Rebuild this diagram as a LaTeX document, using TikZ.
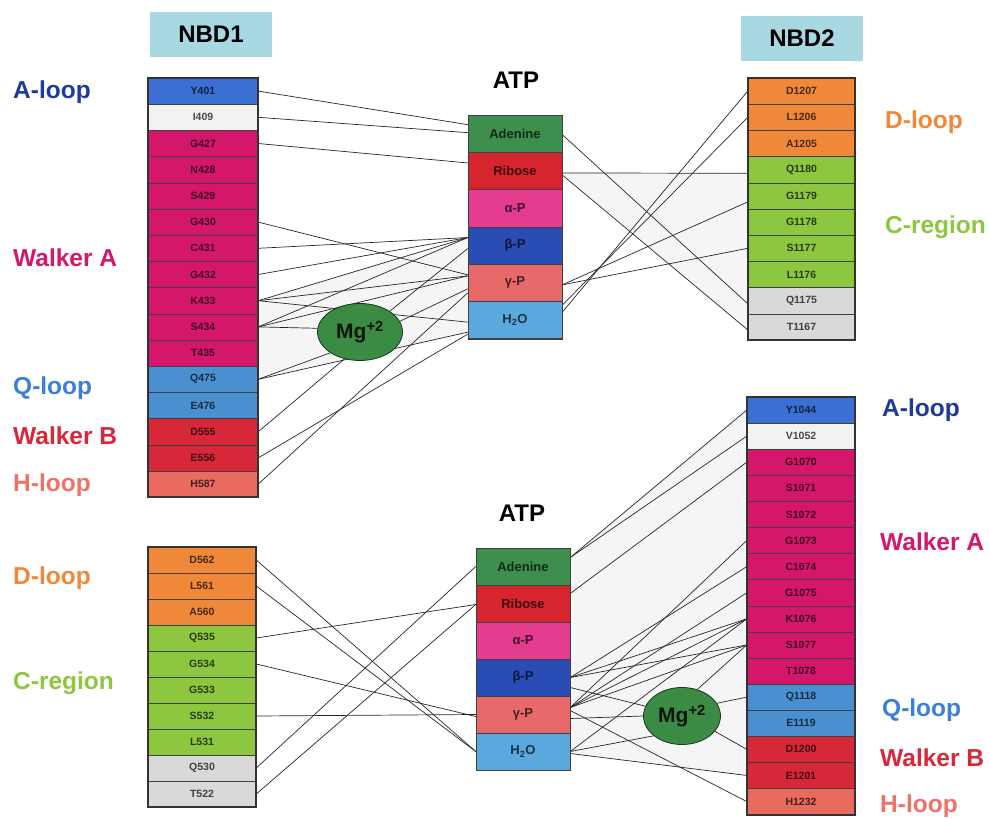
\documentclass[tikz,border=0pt]{standalone}
\usepackage{fontspec}
\setmainfont{Liberation Sans}
\usetikzlibrary{calc,backgrounds,shapes.geometric}
\definecolor{aloop}{HTML}{3B6FD4}
\definecolor{walkA}{HTML}{D4176A}
\definecolor{qloop}{HTML}{4A90D0}
\definecolor{walkB}{HTML}{D62839}
\definecolor{hloop}{HTML}{E96A5E}
\definecolor{dloop}{HTML}{F0883A}
\definecolor{creg}{HTML}{8DC63F}
\definecolor{grayres}{HTML}{D9D9D9}
\definecolor{whiteres}{HTML}{F2F2F2}
\definecolor{aden}{HTML}{3E8E4E}
\definecolor{ribo}{HTML}{D6252E}
\definecolor{alphap}{HTML}{E43C8E}
\definecolor{betap}{HTML}{2A4DB5}
\definecolor{gammap}{HTML}{E8696A}
\definecolor{water}{HTML}{5BA8DF}
\definecolor{mg}{HTML}{3C8B45}
\definecolor{nbd}{HTML}{A8D8E2}
\definecolor{laloop}{HTML}{1E3A9A}
\definecolor{lqloop}{HTML}{3B7FD9}
\definecolor{lhloop}{HTML}{F0706A}
\begin{document}
\begin{tikzpicture}[x=1pt,y=-1pt,
 res/.style={draw=black!75, line width=0.5pt, inner sep=0pt, font=\bfseries\fontsize{10.5}{12}\selectfont},
 atpbox/.style={draw=black!75, line width=0.5pt, inner sep=0pt, minimum width=94pt, minimum height=37.3pt, font=\bfseries\fontsize{13}{14}\selectfont},
 link/.style={draw=black!85, line width=0.7pt},
 side/.style={anchor=west, inner sep=0pt, font=\bfseries\fontsize{24.5}{26}\selectfont},
 colframe/.style={draw=black!80, line width=2.2pt},
 mgion/.style={ellipse, draw=black!60!mg, fill=mg, line width=0.8pt, minimum width=85pt, minimum height=57pt, inner sep=0pt, font=\bfseries\fontsize{21}{22}\selectfont, text=black!85!mg},
 shadearea/.style={fill=black!4, draw=none},
 nbdbox/.style={fill=nbd, inner sep=0pt, minimum width=122pt, minimum height=45pt, font=\bfseries\fontsize{24}{26}\selectfont},
 atptitle/.style={font=\bfseries\fontsize{24}{26}\selectfont}]
\useasboundingbox (0,0) rectangle (989,819);

% ---------- headers
\node[nbdbox] (nbd1) at (211,34) {NBD1};
\node[nbdbox] (nbd2) at (802,38) {NBD2};
\node[atptitle] (atp1) at (516,80) {ATP};
\node[atptitle] (atp2) at (522,513) {ATP};

% ---------- top-left column
\foreach \nm/\lab/\col [count=\i from 0] in {Y401/Y401/aloop, I409/I409/whiteres, G427/G427/walkA, N428/N428/walkA, S429/S429/walkA, G430/G430/walkA, C431/C431/walkA, G432/G432/walkA, K433/K433/walkA, S434/S434/walkA, T435/T435/walkA, Q475/Q475/qloop, E476/E476/qloop, D555/D555/walkB, E556/E556/walkB, H587/H587/hloop}
  \node[res, fill=\col, text=\col!30!black, minimum width=110pt, minimum height=26.2pt] (\nm) at (203, 91.1+26.2*\i) {\lab};
\draw[colframe] (148,78) rectangle (258,497.2);

% ---------- top-right column
\foreach \nm/\lab/\col [count=\i from 0] in {D1207/D1207/dloop, L1206/L1206/dloop, A1205/A1205/dloop, Q1180/Q1180/creg, G1179/G1179/creg, G1178/G1178/creg, S1177/S1177/creg, L1176/L1176/creg, Q1175/Q1175/grayres, T1167/T1167/grayres}
  \node[res, fill=\col, text=\col!30!black, minimum width=107pt, minimum height=26.2pt] (\nm) at (801.5, 91.1+26.2*\i) {\lab};
\draw[colframe] (748,78) rectangle (855,340);

% ---------- bottom-left column
\foreach \nm/\lab/\col [count=\i from 0] in {D562/D562/dloop, L561/L561/dloop, A560/A560/dloop, Q535/Q535/creg, G534/G534/creg, G533/G533/creg, S532/S532/creg, L531/L531/creg, Q530/Q530/grayres, T522/T522/grayres}
  \node[res, fill=\col, text=\col!30!black, minimum width=108pt, minimum height=26pt] (\nm) at (202, 560+26*\i) {\lab};
\draw[colframe] (148,547) rectangle (256,807);

% ---------- bottom-right column
\foreach \nm/\lab/\col [count=\i from 0] in {Y1044/Y1044/aloop, V1052/V1052/whiteres, G1070/G1070/walkA, S1071/S1071/walkA, S1072/S1072/walkA, G1073/G1073/walkA, C1074/C1074/walkA, G1075/G1075/walkA, K1076/K1076/walkA, S1077/S1077/walkA, T1078/T1078/walkA, Q1118/Q1118/qloop, E1119/E1119/qloop, D1200/D1200/walkB, E1201/E1201/walkB, H1232/H1232/hloop}
  \node[res, fill=\col, text=\col!30!black, minimum width=108pt, minimum height=26.1pt] (\nm) at (801, 410.05+26.1*\i) {\lab};
\draw[colframe] (747,397) rectangle (855,814.6);

% ---------- ATP columns
\foreach \nm/\lab/\col [count=\i from 0] in {aden/Adenine/aden, ribo/Ribose/ribo, alp/α-P/alphap, bet/β-P/betap, gam/γ-P/gammap, wat/H\textsubscript{2}O/water}
  \node[atpbox, fill=\col, text=\col!30!black] (\nm) at (515, 133.65+37.3*\i) {\lab};
\draw[black!75, line width=1pt] (468,115) -- (562,115) (468,338.8) -- (562,338.8);
\foreach \nm/\lab/\col [count=\i from 0] in {adenB/Adenine/aden, riboB/Ribose/ribo, alpB/α-P/alphap, betB/β-P/betap, gamB/γ-P/gammap, watB/H\textsubscript{2}O/water}
  \node[atpbox, fill=\col, text=\col!30!black, minimum height=37pt] (\nm) at (523, 566.5+37*\i) {\lab};
\draw[black!75, line width=1pt] (476,548) -- (570,548) (476,770) -- (570,770);

% ---------- Mg ions
\node[mgion] (mgA) at (360,332) {Mg\textsuperscript{+2}};
\node[mgion, minimum width=77pt] (mgB) at (682,716) {Mg\textsuperscript{+2}};

% ---------- side labels
\node[side, text=laloop] (lA1) at (13,92) {A-loop};
\node[side, text=walkA] (lW1) at (13,258) {Walker A};
\node[side, text=lqloop] (lQ1) at (13,388) {Q-loop};
\node[side, text=walkB] (lB1) at (13,436) {Walker B};
\node[side, text=lhloop] (lH1) at (13,485) {H-loop};
\node[side, text=dloop] (lD1) at (13,578) {D-loop};
\node[side, text=creg] (lC1) at (13,683) {C-region};
\node[side, text=dloop] (lD2) at (885,122) {D-loop};
\node[side, text=creg] (lC2) at (885,227) {C-region};
\node[side, text=laloop] (lA2) at (882,410) {A-loop};
\node[side, text=walkA] (lW2) at (880,542) {Walker A};
\node[side, text=lqloop] (lQ2) at (882,710) {Q-loop};
\node[side, text=walkB] (lB2) at (880,758) {Walker B};
\node[side, text=lhloop] (lH2) at (880,806) {H-loop};

% ---------- connectors
\begin{pgfonlayer}{background}
\fill[shadearea] ($(ribo.east)+(0,2)$) -- ($(Q1180.west)+(0,3.6)$) -- ($(T1167.west)+(0,3)$) -- cycle;
\fill[shadearea] (K433.east) -- ($(bet.west)+(0,-8)$) -- ($(wat.west)+(0,12)$) -- (Q475.east) -- cycle;
\fill[shadearea] ($(adenB.east)+(0,-9)$) -- (Y1044.west) -- (E1201.west) -- ($(watB.east)+(0,2)$) -- cycle;

% top-left
\draw[link] (Y401.east) -- ($(aden.west)+(0,-9)$);
\draw[link] (I409.east) -- ($(aden.west)+(0,-1)$);
\draw[link] (G427.east) -- ($(ribo.west)+(0,-8)$);
\draw[link] (G430.east) -- ($(gam.west)+(0,-8)$);
\draw[link] (C431.east) -- ($(bet.west)+(0,-8)$);
\draw[link] (G432.east) -- ($(bet.west)+(0,-8)$);
\draw[link] (K433.east) -- ($(bet.west)+(0,-8)$);
\draw[link] (K433.east) -- ($(gam.west)+(0,-7)$);
\draw[link] (K433.east) -- ($(wat.west)+(0,2)$);
\draw[link] (S434.east) -- ($(bet.west)+(0,-8)$);
\draw[link] (S434.east) -- ($(gam.west)+(0,-7)$);
\draw[link] (S434.east) -- (mgA.175);
\draw[link] (Q475.east) -- (mgA.215);
\draw[link] (Q475.east) -- ($(wat.west)+(0,12)$);
\draw[link] (D555.east) -- (mgA.240);
\draw[link] (E556.east) -- ($(wat.west)+(0,14)$);
\draw[link] (H587.east) -- ($(gam.west)+(0,10)$);
\draw[link] (mgA.35) -- ($(bet.west)+(0,3)$);
\draw[link] (mgA.15) -- ($(gam.west)+(0,6)$);

% top-right
\draw[link] ($(aden.east)+(0,1)$) -- ($(Q1175.west)+(0,3)$);
\draw[link] ($(ribo.east)+(0,2)$) -- ($(Q1180.west)+(0,3.6)$);
\draw[link] ($(ribo.east)+(0,4)$) -- ($(T1167.west)+(0,3)$);
\draw[link] ($(gam.east)+(0,2)$) -- ($(G1179.west)+(0,6)$);
\draw[link] ($(gam.east)+(0,2)$) -- (S1177.west);
\draw[link] ($(wat.east)+(0,-8)$) -- (D1207.west);
\draw[link] ($(wat.east)+(0,-15)$) -- (L1206.west);

% bottom-left
\draw[link] (D562.east) -- (watB.west);
\draw[link] (L561.east) -- (watB.west);
\draw[link] (Q535.east) -- ($(riboB.west)+(0,1)$);
\draw[link] (G534.east) -- ($(gamB.west)+(0,2)$);
\draw[link] (S532.east) -- (gamB.west);
\draw[link] (Q530.east) -- (adenB.west);
\draw[link] (T522.east) -- ($(riboB.west)+(0,1)$);

% bottom-right
\draw[link] ($(adenB.east)+(0,-9)$) -- (Y1044.west);
\draw[link] ($(adenB.east)+(0,-9)$) -- (V1052.west);
\draw[link] ($(riboB.east)+(0,-10)$) -- (G1070.west);
\draw[link] ($(gamB.east)+(0,-7)$) -- (G1073.west);
\draw[link] (betB.east) -- (C1074.west);
\draw[link] ($(gamB.east)+(0,-7)$) -- (G1075.west);
\draw[link] (betB.east) -- (K1076.west);
\draw[link] ($(gamB.east)+(0,-7)$) -- (K1076.west);
\draw[link] (watB.east) -- (K1076.west);
\draw[link] (betB.east) -- (S1077.west);
\draw[link] ($(gamB.east)+(0,-7)$) -- (S1077.west);
\draw[link] ($(betB.east)+(0,10)$) -- (mgB.165);
\draw[link] ($(gamB.east)+(0,4)$) -- (mgB.180);
\draw[link] (watB.east) -- (mgB.215);
\draw[link] (mgB.60) -- (S1077.west);
\draw[link] (mgB.20) -- (Q1118.west);
\draw[link] (mgB.335) -- (D1200.west);
\draw[link] ($(watB.east)+(0,2)$) -- (E1201.west);
\draw[link] ($(gamB.east)+(0,-4)$) -- (H1232.west);
\end{pgfonlayer}
\end{tikzpicture}
\end{document}
